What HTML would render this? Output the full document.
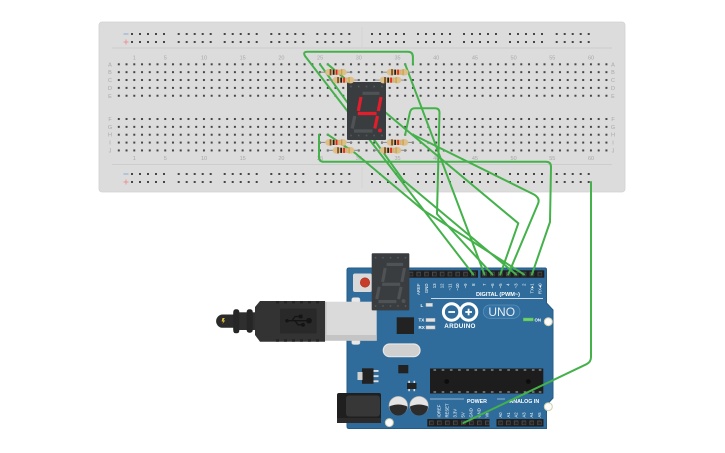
<!DOCTYPE html>
<html><head><meta charset="utf-8"><style>html,body{margin:0;padding:0;background:#fff;width:725px;height:453px;overflow:hidden}svg{display:block}</style></head>
<body>
<svg xmlns="http://www.w3.org/2000/svg" width="725" height="453" viewBox="0 0 725 453" font-family="'Liberation Sans', sans-serif">
<defs>
<pattern id="hA" patternUnits="userSpaceOnUse" x="114.93" y="60.37" width="7.74" height="7.86"><rect x="2.87" y="2.93" width="2" height="2" fill="#454545"/></pattern>
<pattern id="hB" patternUnits="userSpaceOnUse" x="114.93" y="115.07" width="7.74" height="7.86"><rect x="2.87" y="2.93" width="2" height="2" fill="#454545"/></pattern>
<g id="rg" fill="#454545">
<rect x="-1" y="-1" width="2" height="2"/><rect x="7" y="-1" width="2" height="2"/><rect x="15" y="-1" width="2" height="2"/><rect x="23" y="-1" width="2" height="2"/><rect x="31" y="-1" width="2" height="2"/>
<rect x="-1" y="7" width="2" height="2"/><rect x="7" y="7" width="2" height="2"/><rect x="15" y="7" width="2" height="2"/><rect x="23" y="7" width="2" height="2"/><rect x="31" y="7" width="2" height="2"/>
</g>
<g id="res">
<rect x="-6" y="-0.5" width="33" height="1" fill="#8a8a8a"/>
<rect x="3" y="-2.6" width="15" height="5.2" fill="#d4b27b"/>
<ellipse cx="3.3" cy="0" rx="3.6" ry="3.3" fill="#ddbf8a"/>
<ellipse cx="17.7" cy="0" rx="3.6" ry="3.3" fill="#ddbf8a"/>
<rect x="4.2" y="-3.1" width="1.7" height="6.2" fill="#7a4a1e"/>
<rect x="7.3" y="-2.6" width="1.7" height="5.2" fill="#1f1f1f"/>
<rect x="10.2" y="-2.6" width="1.7" height="5.2" fill="#e0261b"/>
<rect x="15.4" y="-3.1" width="1.4" height="6.2" fill="#c9a447"/>
</g>
<g id="pinT"><rect x="-2.3" y="-2.3" width="4.6" height="4.6" fill="#4a4a4a"/><rect x="-1.3" y="-1.3" width="3" height="3" fill="#262626"/></g>
</defs>

<!-- Breadboard -->
<rect x="99" y="22" width="526" height="170" rx="3" fill="#dcdcdc" stroke="#d2d2d2" stroke-width="0.8"/>
<line x1="112" y1="48" x2="612" y2="48" stroke="#c9c9c9" stroke-width="0.8"/>
<line x1="112" y1="164.5" x2="612" y2="164.5" stroke="#c9c9c9" stroke-width="0.8"/>
<line x1="362" y1="27" x2="362" y2="47" stroke="#cfcfcf" stroke-width="0.7"/>
<line x1="362" y1="167" x2="362" y2="188" stroke="#cfcfcf" stroke-width="0.7"/>
<rect x="114.93" y="60.37" width="495.36" height="39.3" fill="url(#hA)"/>
<rect x="114.93" y="115.07" width="495.36" height="39.3" fill="url(#hB)"/>
<g>
<use href="#rg" x="132" y="34"/><use href="#rg" x="178.7" y="34"/><use href="#rg" x="224.7" y="34"/><use href="#rg" x="271.3" y="34"/><use href="#rg" x="317.3" y="34"/>
<use href="#rg" x="372" y="34"/><use href="#rg" x="418" y="34"/><use href="#rg" x="464" y="34"/><use href="#rg" x="510" y="34"/><use href="#rg" x="556.7" y="34"/>
<use href="#rg" x="132" y="174"/><use href="#rg" x="178.7" y="174"/><use href="#rg" x="224.7" y="174"/><use href="#rg" x="271.3" y="174"/><use href="#rg" x="317.3" y="174"/>
<use href="#rg" x="372" y="174"/><use href="#rg" x="418" y="174"/><use href="#rg" x="464" y="174"/><use href="#rg" x="510" y="174"/><use href="#rg" x="556.7" y="174"/>
</g>
<g stroke-width="1.1">
<line x1="123.5" y1="34" x2="128.5" y2="34" stroke="#8fb0d6"/>
<line x1="123.5" y1="42" x2="128.5" y2="42" stroke="#ea9a9a"/><line x1="126" y1="39.5" x2="126" y2="44.5" stroke="#ea9a9a"/>
<line x1="123.5" y1="174" x2="128.5" y2="174" stroke="#8fb0d6"/>
<line x1="123.5" y1="182" x2="128.5" y2="182" stroke="#ea9a9a"/><line x1="126" y1="179.5" x2="126" y2="184.5" stroke="#ea9a9a"/>
</g>
<g font-size="5.5" fill="#a8a8a8" text-anchor="middle">
<text x="134.3" y="59.5">1</text><text x="165.3" y="59.5">5</text><text x="204" y="59.5">10</text><text x="242.7" y="59.5">15</text><text x="281.4" y="59.5">20</text><text x="320.1" y="59.5">25</text><text x="358.8" y="59.5">30</text><text x="397.5" y="59.5">35</text><text x="436.2" y="59.5">40</text><text x="474.9" y="59.5">45</text><text x="513.6" y="59.5">50</text><text x="552.3" y="59.5">55</text><text x="591" y="59.5">60</text>
<text x="134.3" y="160">1</text><text x="165.3" y="160">5</text><text x="204" y="160">10</text><text x="242.7" y="160">15</text><text x="281.4" y="160">20</text><text x="320.1" y="160">25</text><text x="358.8" y="160">30</text><text x="397.5" y="160">35</text><text x="436.2" y="160">40</text><text x="474.9" y="160">45</text><text x="513.6" y="160">50</text><text x="552.3" y="160">55</text><text x="591" y="160">60</text>
<text x="110" y="66.3">A</text><text x="110" y="74.2">B</text><text x="110" y="82.1">C</text><text x="110" y="90">D</text><text x="110" y="97.9">E</text>
<text x="110" y="121">F</text><text x="110" y="128.8">G</text><text x="110" y="136.6">H</text><text x="110" y="144.4">I</text><text x="110" y="152.3">J</text>
<text x="613" y="66.3">A</text><text x="613" y="74.2">B</text><text x="613" y="82.1">C</text><text x="613" y="90">D</text><text x="613" y="97.9">E</text>
<text x="613" y="121">F</text><text x="613" y="128.8">G</text><text x="613" y="136.6">H</text><text x="613" y="144.4">I</text><text x="613" y="152.3">J</text>
</g>

<!-- Arduino board -->
<path d="M349,268 L545,268 Q546.5,268 546.5,269.5 L546.5,303 L553,310 L553,398 L546.5,405 L546.5,428.5 L349,428.5 Q347,428.5 347,426.5 L347,270 Q347,268 349,268 Z" fill="#2f6c9b" stroke="#265b85" stroke-width="1"/>
<!-- reset -->
<rect x="353" y="273.5" width="19" height="18.5" rx="2" fill="#d9d9d9"/>
<circle cx="365" cy="282.5" r="4.7" fill="#c63d2b" stroke="#a8321f" stroke-width="0.6"/>
<!-- digital headers -->
<rect x="398" y="270.3" width="80" height="7.4" fill="#1e1e1e"/>
<rect x="480.5" y="270.3" width="63.8" height="7.4" fill="#1e1e1e"/>
<g>
<use href="#pinT" x="403.1" y="274"/><use href="#pinT" x="410.9" y="274"/><use href="#pinT" x="418.7" y="274"/><use href="#pinT" x="426.5" y="274"/><use href="#pinT" x="434.3" y="274"/><use href="#pinT" x="442.1" y="274"/><use href="#pinT" x="449.9" y="274"/><use href="#pinT" x="457.7" y="274"/><use href="#pinT" x="465.5" y="274"/><use href="#pinT" x="473.3" y="274"/>
<use href="#pinT" x="484.5" y="274"/><use href="#pinT" x="492.4" y="274"/><use href="#pinT" x="500.3" y="274"/><use href="#pinT" x="508.2" y="274"/><use href="#pinT" x="516.1" y="274"/><use href="#pinT" x="524" y="274"/><use href="#pinT" x="531.9" y="274"/><use href="#pinT" x="539.8" y="274"/>
</g>
<g font-size="4.3" fill="#fff" text-anchor="end">
<text transform="translate(420.2,283.5) rotate(-90)">AREF</text>
<text transform="translate(428,283.5) rotate(-90)">GND</text>
<text transform="translate(435.8,283.5) rotate(-90)">13</text>
<text transform="translate(443.6,283.5) rotate(-90)">12</text>
<text transform="translate(451.4,283.5) rotate(-90)">~11</text>
<text transform="translate(459.2,283.5) rotate(-90)">~10</text>
<text transform="translate(467,283.5) rotate(-90)">~9</text>
<text transform="translate(474.8,283.5) rotate(-90)">8</text>
<text transform="translate(486,283.5) rotate(-90)">7</text>
<text transform="translate(493.9,283.5) rotate(-90)">~6</text>
<text transform="translate(501.8,283.5) rotate(-90)">~5</text>
<text transform="translate(509.7,283.5) rotate(-90)">4</text>
<text transform="translate(517.6,283.5) rotate(-90)">~3</text>
<text transform="translate(525.5,283.5) rotate(-90)">2</text>
<text transform="translate(533.4,283.5) rotate(-90)">TX▸1</text>
<text transform="translate(541.3,283.5) rotate(-90)">RX◂0</text>
</g>
<text x="498" y="296" font-size="5.6" font-weight="bold" fill="#fff" text-anchor="middle">DIGITAL (PWM~)</text>
<line x1="431" y1="298.6" x2="543" y2="298.6" stroke="#fff" stroke-width="0.7"/>
<!-- LEDs -->
<g font-size="4.5" fill="#fff" font-weight="bold">
<text x="420.5" y="306.8">L</text>
<text x="418.5" y="321.5">TX</text>
<text x="418.5" y="329">RX</text>
</g>
<rect x="426" y="303.3" width="6.5" height="3.2" fill="#e2e2e2" stroke="#b9b9b9" stroke-width="0.5"/>
<rect x="426" y="318.4" width="9" height="3.2" fill="#e2e2e2" stroke="#b9b9b9" stroke-width="0.5"/>
<rect x="426" y="325.8" width="9" height="3.2" fill="#e2e2e2" stroke="#b9b9b9" stroke-width="0.5"/>
<!-- logo -->
<circle cx="451.6" cy="312" r="8.2" fill="none" stroke="#fff" stroke-width="3"/>
<circle cx="468.6" cy="312" r="8.2" fill="none" stroke="#fff" stroke-width="3"/>
<line x1="448.3" y1="312" x2="455" y2="312" stroke="#fff" stroke-width="1.8"/>
<line x1="465.3" y1="312" x2="472" y2="312" stroke="#fff" stroke-width="1.8"/>
<line x1="468.6" y1="308.7" x2="468.6" y2="315.3" stroke="#fff" stroke-width="1.8"/>
<text x="460" y="327.8" font-size="6.3" font-weight="bold" fill="#fff" text-anchor="middle" letter-spacing="0.3">ARDUINO</text>
<rect x="483.3" y="305" width="36.7" height="13.3" rx="6.6" fill="#3473a3" stroke="#5a8fba" stroke-width="0.8"/>
<text x="501.7" y="316.2" font-size="12" fill="#e6edf3" text-anchor="middle">UNO</text>
<rect x="523.3" y="318" width="10" height="3" fill="#6fd36f" stroke="#4caf50" stroke-width="0.5"/>
<text x="534.5" y="321.3" font-size="4.3" fill="#fff" font-weight="bold">ON</text>
<!-- mounting holes -->
<circle cx="548.3" cy="321.7" r="4" fill="#fbfbfb" stroke="#cfcfb0" stroke-width="1"/>
<circle cx="548.3" cy="406.7" r="4" fill="#fbfbfb" stroke="#cfcfb0" stroke-width="1"/>
<circle cx="389.3" cy="422.6" r="4" fill="#fbfbfb" stroke="#cfcfb0" stroke-width="1"/>
<!-- IC near LEDs -->
<rect x="396.7" y="317.3" width="17.3" height="16.7" fill="#222"/>
<!-- crystal -->
<rect x="383.3" y="344" width="36.7" height="12.7" rx="6.3" fill="#d0d0d0" stroke="#e6e6e6" stroke-width="1.2"/>
<!-- small parts -->
<rect x="398.3" y="365" width="10" height="8.3" fill="#222"/>
<rect x="362" y="368.3" width="11.5" height="15.5" fill="#222"/>
<rect x="357.5" y="372" width="5" height="8" fill="#d0d0d0"/>
<rect x="373.5" y="370" width="5" height="1.9" fill="#ddd"/>
<rect x="373.5" y="375.2" width="5" height="1.9" fill="#ddd"/>
<rect x="373.5" y="380.3" width="5" height="1.9" fill="#ddd"/>
<rect x="407" y="383" width="9.5" height="6" fill="#222"/>
<rect x="408.3" y="380.8" width="1.6" height="2.2" fill="#ddd"/><rect x="413.5" y="380.8" width="1.6" height="2.2" fill="#ddd"/>
<rect x="408.3" y="389" width="1.6" height="2.2" fill="#ddd"/><rect x="413.5" y="389" width="1.6" height="2.2" fill="#ddd"/>
<!-- chip -->
<rect x="430" y="368.5" width="113.3" height="25" fill="#1d1d1d"/>
<g fill="#8c8c8c">
<rect x="433.5" y="369.3" width="2.6" height="1.4"/><rect x="441.7" y="369.3" width="2.6" height="1.4"/><rect x="449.9" y="369.3" width="2.6" height="1.4"/><rect x="458.1" y="369.3" width="2.6" height="1.4"/><rect x="466.3" y="369.3" width="2.6" height="1.4"/><rect x="474.5" y="369.3" width="2.6" height="1.4"/><rect x="482.7" y="369.3" width="2.6" height="1.4"/><rect x="490.9" y="369.3" width="2.6" height="1.4"/><rect x="499.1" y="369.3" width="2.6" height="1.4"/><rect x="507.3" y="369.3" width="2.6" height="1.4"/><rect x="515.5" y="369.3" width="2.6" height="1.4"/><rect x="523.7" y="369.3" width="2.6" height="1.4"/><rect x="531.9" y="369.3" width="2.6" height="1.4"/><rect x="538.8" y="369.3" width="2.6" height="1.4"/>
<rect x="433.5" y="391.3" width="2.6" height="1.4"/><rect x="441.7" y="391.3" width="2.6" height="1.4"/><rect x="449.9" y="391.3" width="2.6" height="1.4"/><rect x="458.1" y="391.3" width="2.6" height="1.4"/><rect x="466.3" y="391.3" width="2.6" height="1.4"/><rect x="474.5" y="391.3" width="2.6" height="1.4"/><rect x="482.7" y="391.3" width="2.6" height="1.4"/><rect x="490.9" y="391.3" width="2.6" height="1.4"/><rect x="499.1" y="391.3" width="2.6" height="1.4"/><rect x="507.3" y="391.3" width="2.6" height="1.4"/><rect x="515.5" y="391.3" width="2.6" height="1.4"/><rect x="523.7" y="391.3" width="2.6" height="1.4"/><rect x="531.9" y="391.3" width="2.6" height="1.4"/><rect x="538.8" y="391.3" width="2.6" height="1.4"/>
</g>
<circle cx="446.7" cy="381.5" r="2.4" fill="#0d0d0d"/>
<circle cx="528.3" cy="381.5" r="2.4" fill="#0d0d0d"/>
<!-- capacitors -->
<circle cx="398.3" cy="405.7" r="9.3" fill="#e4e4e4" stroke="#b5b5b5" stroke-width="0.6"/>
<path d="M389.3,406.5 Q398.3,402.5 407.3,406.5 A9 9 0 0 1 389.3,406.5 Z" fill="#2c2c2c"/>
<circle cx="419" cy="405.7" r="9.3" fill="#e4e4e4" stroke="#b5b5b5" stroke-width="0.6"/>
<path d="M410,406.5 Q419,402.5 428,406.5 A9 9 0 0 1 410,406.5 Z" fill="#2c2c2c"/>
<!-- power jack -->
<rect x="337" y="393" width="44" height="30" rx="2" fill="#1f1f1f"/>
<rect x="346" y="395.5" width="34" height="21" rx="3" fill="#373737"/>
<rect x="337" y="418" width="44" height="5" fill="#2b2b2b"/>
<!-- power/analog labels -->
<line x1="430" y1="399" x2="488" y2="399" stroke="#fff" stroke-width="0.6"/>
<line x1="497" y1="399" x2="543" y2="399" stroke="#fff" stroke-width="0.6"/>
<rect x="464" y="397" width="26" height="6" fill="#2f6c9b"/>
<rect x="505" y="397" width="39" height="6" fill="#2f6c9b"/>
<text x="477" y="402.8" font-size="5.3" font-weight="bold" fill="#fff" text-anchor="middle">POWER</text>
<text x="524.3" y="402.8" font-size="5.3" font-weight="bold" fill="#fff" text-anchor="middle">ANALOG IN</text>
<g font-size="4.2" fill="#fff">
<text transform="translate(440.5,417.5) rotate(-90)">IOREF</text>
<text transform="translate(448.5,417.5) rotate(-90)">RESET</text>
<text transform="translate(456.5,417.5) rotate(-90)">3.3V</text>
<text transform="translate(464.5,417.5) rotate(-90)">5V</text>
<text transform="translate(472.5,417.5) rotate(-90)">GND</text>
<text transform="translate(480.5,417.5) rotate(-90)">GND</text>
<text transform="translate(488.5,417.5) rotate(-90)">Vin</text>
<text transform="translate(502,417.5) rotate(-90)">A0</text>
<text transform="translate(509.8,417.5) rotate(-90)">A1</text>
<text transform="translate(517.6,417.5) rotate(-90)">A2</text>
<text transform="translate(525.4,417.5) rotate(-90)">A3</text>
<text transform="translate(533.2,417.5) rotate(-90)">A4</text>
<text transform="translate(541,417.5) rotate(-90)">A5</text>
</g>
<rect x="427.3" y="419" width="62.3" height="7.6" fill="#1e1e1e"/>
<rect x="496.5" y="419" width="47" height="7.6" fill="#1e1e1e"/>
<g>
<use href="#pinT" x="431.3" y="422.8"/><use href="#pinT" x="439.3" y="422.8"/><use href="#pinT" x="447.3" y="422.8"/><use href="#pinT" x="455.3" y="422.8"/><use href="#pinT" x="463.3" y="422.8"/><use href="#pinT" x="471.3" y="422.8"/><use href="#pinT" x="479.3" y="422.8"/><use href="#pinT" x="487.3" y="422.8"/>
<use href="#pinT" x="500.5" y="422.8"/><use href="#pinT" x="508.3" y="422.8"/><use href="#pinT" x="516.1" y="422.8"/><use href="#pinT" x="523.9" y="422.8"/><use href="#pinT" x="531.7" y="422.8"/><use href="#pinT" x="539.5" y="422.8"/>
</g>

<!-- USB cable -->
<path d="M233.5,314.5 L222,314.5 A6.7 6.7 0 0 0 222,327.8 L233.5,327.8 Z" fill="#2b2b2b"/>
<path d="M222.5,318 L224.8,318 L223.4,320.5 L225.2,320.5 L222.3,324 L223.3,321.5 L221.6,321.5 Z" fill="#e3c33a"/>
<rect x="233.3" y="312.3" width="22" height="17.7" fill="#2f2f2f"/>
<rect x="233.3" y="309.3" width="6" height="24" rx="2.5" fill="#262626"/>
<rect x="246.7" y="309.3" width="6" height="23.4" rx="2.5" fill="#262626"/>
<path d="M255,307 L260,301 L325,301 L325,341.7 L260,341.7 L255,335 Z" fill="#333"/>
<g fill="#242424">
<rect x="276" y="301" width="3" height="2.5"/><rect x="284" y="301" width="3" height="2.5"/><rect x="292" y="301" width="3" height="2.5"/><rect x="300" y="301" width="3" height="2.5"/><rect x="308" y="301" width="3" height="2.5"/><rect x="316" y="301" width="3" height="2.5"/>
<rect x="276" y="339.2" width="3" height="2.5"/><rect x="284" y="339.2" width="3" height="2.5"/><rect x="292" y="339.2" width="3" height="2.5"/><rect x="300" y="339.2" width="3" height="2.5"/><rect x="308" y="339.2" width="3" height="2.5"/><rect x="316" y="339.2" width="3" height="2.5"/>
</g>
<rect x="280" y="308.5" width="36.7" height="25" rx="1" fill="#292929"/>
<g stroke="#141414" stroke-width="1.3" fill="#141414">
<line x1="287" y1="320.7" x2="308" y2="320.7"/>
<circle cx="309" cy="320.7" r="2.2"/>
<circle cx="287" cy="320.7" r="1.1"/>
<polyline points="292,320.7 295,316.5 300,316.5" fill="none"/>
<rect x="299.5" y="315.3" width="2.4" height="2.4"/>
<polyline points="295,320.7 298,324.8 302,324.8" fill="none"/>
<circle cx="303" cy="324.8" r="1.3"/>
</g>
<rect x="351.7" y="297.6" width="8.3" height="5.5" rx="2" fill="#e8e8e8" stroke="#cfcfcf" stroke-width="0.5"/>
<rect x="351.7" y="339.5" width="8.3" height="5" rx="2" fill="#e8e8e8" stroke="#cfcfcf" stroke-width="0.5"/>
<rect x="325" y="301.7" width="51.7" height="39" fill="#dadada"/>
<rect x="325" y="335" width="51.7" height="5.7" fill="#c4c4c4"/>
<rect x="325" y="301.7" width="1.5" height="39" fill="#c2c2c2"/>

<!-- Arduino-mounted 7 segment (unlit) -->
<g transform="translate(371.7,253.3) scale(0.965,0.985)">
<rect width="39" height="58" rx="1" fill="#3a3d40"/>
<g fill="#56595c"><rect x="3.2" y="3.7" width="1.6" height="1.6"/><rect x="10.9" y="3.7" width="1.6" height="1.6"/><rect x="18.7" y="3.7" width="1.6" height="1.6"/><rect x="26.4" y="3.7" width="1.6" height="1.6"/><rect x="34.2" y="3.7" width="1.6" height="1.6"/>
<rect x="3.2" y="52.7" width="1.6" height="1.6"/><rect x="10.9" y="52.7" width="1.6" height="1.6"/><rect x="18.7" y="52.7" width="1.6" height="1.6"/><rect x="26.4" y="52.7" width="1.6" height="1.6"/><rect x="34.2" y="52.7" width="1.6" height="1.6"/></g>
<g stroke="#505356" stroke-width="3.2">
<line x1="15.5" y1="11.3" x2="32.5" y2="11.3"/>
<line x1="34" y1="15" x2="31.3" y2="29"/>
<line x1="30.5" y1="34" x2="27.8" y2="46.5"/>
<line x1="7" y1="49" x2="25.5" y2="49"/>
<line x1="7.8" y1="34" x2="5.2" y2="46.5"/>
<line x1="14" y1="15" x2="11.3" y2="29"/>
<line x1="10.8" y1="31.5" x2="29.5" y2="31.5"/>
</g>
<circle cx="33" cy="48.5" r="2" fill="#505356"/>
</g>

<!-- Wires -->
<g fill="none" stroke="#44b14a" stroke-width="2" stroke-linejoin="round" stroke-linecap="round">
<path d="M412.9,64.5 L412.9,57 Q412.9,51.8 407.7,51.8 L307.5,51.8 Q302.5,51.8 305,56 L473.3,274.5"/>
<path d="M319,134.6 L319,157 Q319,161.8 323.8,161.8 L546,161.8 Q551,161.8 551,167 L550,222 L531.9,274.5"/>
<path d="M405.2,134.6 L410,112 Q411,108.3 415,108.3 L435,108.3 Q439.5,108.3 439.5,113 L437,214 L492.4,274.5"/>
<path d="M412.9,134.6 L534,194.5 Q541,198.5 537.5,205 L508.2,274.5"/>
<path d="M327.8,64.3 L518.3,223.3 L500.3,274.5"/>
<path d="M405.2,64.3 L484.5,274.5"/>
<path d="M320,64.3 L403,180 L516.1,274.5"/>
<path d="M327.8,134.6 L355,153 L423,210 L524,274.5"/>
<path d="M591,182 L591,357 Q591,362 586.5,364.2 L463.3,423"/>
</g>

<!-- Breadboard 7 segment display (showing 4) -->
<g transform="translate(347,82)">
<rect width="39" height="58" rx="1" fill="#3a3d40"/>
<g fill="#56595c"><rect x="3.2" y="3.7" width="1.6" height="1.6"/><rect x="10.9" y="3.7" width="1.6" height="1.6"/><rect x="18.7" y="3.7" width="1.6" height="1.6"/><rect x="26.4" y="3.7" width="1.6" height="1.6"/><rect x="34.2" y="3.7" width="1.6" height="1.6"/>
<rect x="3.2" y="52.7" width="1.6" height="1.6"/><rect x="10.9" y="52.7" width="1.6" height="1.6"/><rect x="18.7" y="52.7" width="1.6" height="1.6"/><rect x="26.4" y="52.7" width="1.6" height="1.6"/><rect x="34.2" y="52.7" width="1.6" height="1.6"/></g>
<g stroke-width="3.2">
<line x1="15.5" y1="11.3" x2="32.5" y2="11.3" stroke="#505356"/>
<line x1="34" y1="15" x2="31.3" y2="29" stroke="#e21d2c"/>
<line x1="30.5" y1="34" x2="27.8" y2="46.5" stroke="#e21d2c"/>
<line x1="7" y1="49" x2="25.5" y2="49" stroke="#505356"/>
<line x1="7.8" y1="34" x2="5.2" y2="46.5" stroke="#505356"/>
<line x1="14" y1="15" x2="11.3" y2="29" stroke="#e21d2c"/>
<line x1="10.8" y1="31.5" x2="29.5" y2="31.5" stroke="#e21d2c"/>
</g>
<circle cx="33" cy="48.5" r="2" fill="#e21d2c"/>
</g>

<!-- Resistors -->
<use href="#res" x="325.5" y="72.2"/>
<use href="#res" x="333" y="80.1"/>
<use href="#res" x="387" y="72.2"/>
<use href="#res" x="380" y="80.1"/>
<use href="#res" x="325.5" y="142.4"/>
<use href="#res" x="333" y="150.3"/>
<use href="#res" x="387" y="142.4"/>
<use href="#res" x="380" y="150.3"/>
</svg>
</body></html>
